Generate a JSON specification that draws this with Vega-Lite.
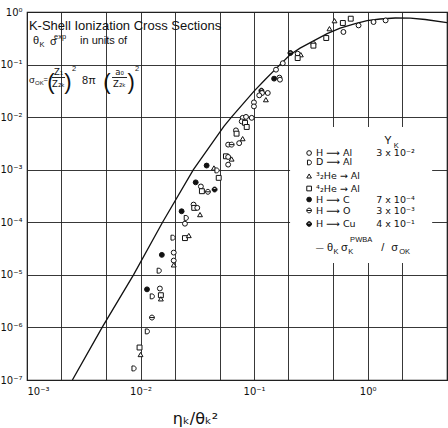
{
  "$schema": "https://vega.github.io/schema/vega-lite/v6.json",
  "width": 420,
  "height": 368,
  "autosize": {"type": "none"},
  "padding": {"left": 27, "top": 12, "right": 1, "bottom": 48},
  "background": "white",
  "config": {
    "view": {"stroke": "#111", "strokeWidth": 1.2},
    "font": "Liberation Sans"
  },
  "datasets": {
    "curve": [
      {"x": 0.00251, "y": 1e-7},
      {"x": 0.00459, "y": 1e-6},
      {"x": 0.00867, "y": 1e-5},
      {"x": 0.01563, "y": 1e-4},
      {"x": 0.0292, "y": 1e-3},
      {"x": 0.0542, "y": 0.00668},
      {"x": 0.0632, "y": 0.01},
      {"x": 0.1, "y": 0.0312},
      {"x": 0.1247, "y": 0.0516},
      {"x": 0.156, "y": 0.0836},
      {"x": 0.2075, "y": 0.154},
      {"x": 0.254, "y": 0.205},
      {"x": 0.331, "y": 0.279},
      {"x": 0.44, "y": 0.387},
      {"x": 0.573, "y": 0.492},
      {"x": 0.778, "y": 0.6},
      {"x": 0.99, "y": 0.684},
      {"x": 1.29, "y": 0.736},
      {"x": 1.75, "y": 0.769},
      {"x": 2.38, "y": 0.762},
      {"x": 3.22, "y": 0.72},
      {"x": 5.0, "y": 0.626}
    ],
    "points": [
      {"s": "H → Al", "x": 0.0246, "y": 9.4e-5},
      {"s": "D → Al", "x": 0.0192, "y": 5.1e-5},
      {"s": "⁴He → Al", "x": 0.0246, "y": 5.0e-5},
      {"s": "³He → Al", "x": 0.0266, "y": 5.6e-5},
      {"s": "H → C", "x": 0.0154, "y": 2.4e-5},
      {"s": "H → Al", "x": 0.0196, "y": 2.65e-5},
      {"s": "H → Al", "x": 0.0196, "y": 1.87e-5},
      {"s": "³He → Al", "x": 0.0196, "y": 1.55e-5},
      {"s": "D → Al", "x": 0.0145, "y": 1.2e-5},
      {"s": "H → C", "x": 0.0114, "y": 5.3e-6},
      {"s": "H → Al", "x": 0.0148, "y": 5.5e-6},
      {"s": "D → Al", "x": 0.0126, "y": 3.9e-6},
      {"s": "⁴He → Al", "x": 0.0151, "y": 4.1e-6},
      {"s": "³He → Al", "x": 0.0151, "y": 3.5e-6},
      {"s": "H → O", "x": 0.0126, "y": 1.54e-6},
      {"s": "D → Al", "x": 0.0114, "y": 8.4e-7},
      {"s": "⁴He → Al", "x": 0.0098, "y": 4.15e-7},
      {"s": "³He → Al", "x": 0.01, "y": 3.05e-7},
      {"s": "D → Al", "x": 0.0087, "y": 1.66e-7},
      {"s": "H → C", "x": 0.0382, "y": 1.2e-3},
      {"s": "³He → Al", "x": 0.0443, "y": 1.08e-3},
      {"s": "D → Al", "x": 0.0468, "y": 9.7e-4},
      {"s": "⁴He → Al", "x": 0.0488, "y": 7.0e-4},
      {"s": "H → C", "x": 0.0306, "y": 5.75e-4},
      {"s": "H → Al", "x": 0.034, "y": 4.8e-4},
      {"s": "⁴He → Al", "x": 0.0347, "y": 3.9e-4},
      {"s": "H → O", "x": 0.0392, "y": 3.8e-4},
      {"s": "H → Cu", "x": 0.0449, "y": 4.2e-4},
      {"s": "H → C", "x": 0.023, "y": 1.62e-4},
      {"s": "H → Al", "x": 0.0293, "y": 2.17e-4},
      {"s": "⁴He → Al", "x": 0.0297, "y": 1.88e-4},
      {"s": "H → Al", "x": 0.0316, "y": 1.88e-4},
      {"s": "³He → Al", "x": 0.0334, "y": 1.4e-4},
      {"s": "D → Al", "x": 0.0251, "y": 1.21e-4},
      {"s": "⁴He → Al", "x": 0.0565, "y": 1.8e-3},
      {"s": "H → Al", "x": 0.0591, "y": 1.75e-3},
      {"s": "³He → Al", "x": 0.0634, "y": 1.6e-3},
      {"s": "H → Al", "x": 0.0591, "y": 1.25e-3},
      {"s": "H → Al", "x": 0.0591, "y": 3.0e-3},
      {"s": "H → O", "x": 0.0634, "y": 3.0e-3},
      {"s": "H → Al", "x": 0.0739, "y": 3.2e-3},
      {"s": "³He → Al", "x": 0.0793, "y": 3.9e-3},
      {"s": "H → Al", "x": 0.0692, "y": 5.6e-3},
      {"s": "⁴He → Al", "x": 0.0701, "y": 4.85e-3},
      {"s": "H → Al", "x": 0.0793, "y": 9.7e-3},
      {"s": "H → Al", "x": 0.0849, "y": 1.01e-2},
      {"s": "H → Al", "x": 0.0953, "y": 9.7e-3},
      {"s": "H → Al", "x": 0.0778, "y": 8.3e-3},
      {"s": "⁴He → Al", "x": 0.0832, "y": 7.8e-3},
      {"s": "⁴He → Al", "x": 0.0861, "y": 6.5e-3},
      {"s": "H → Al", "x": 0.0997, "y": 1.91e-2},
      {"s": "H → Al", "x": 0.0997, "y": 1.6e-2},
      {"s": "H → Cu", "x": 0.116, "y": 3.19e-2},
      {"s": "H → Al", "x": 0.1175, "y": 2.88e-2},
      {"s": "H → Al", "x": 0.111, "y": 2.6e-2},
      {"s": "H → Al", "x": 0.132, "y": 2.88e-2},
      {"s": "³He → Al", "x": 0.127, "y": 2.15e-2},
      {"s": "H → Al", "x": 0.156, "y": 0.08},
      {"s": "H → C", "x": 0.15, "y": 0.054},
      {"s": "H → Al", "x": 0.167, "y": 0.0564},
      {"s": "H → Al", "x": 0.169, "y": 0.0516},
      {"s": "H → Al", "x": 0.179, "y": 0.106},
      {"s": "H → Cu", "x": 0.209, "y": 0.166},
      {"s": "H → Al", "x": 0.242, "y": 0.161},
      {"s": "³He → Al", "x": 0.258, "y": 0.154},
      {"s": "⁴He → Al", "x": 0.242, "y": 0.133},
      {"s": "H → Al", "x": 0.333, "y": 0.246},
      {"s": "⁴He → Al", "x": 0.333, "y": 0.229},
      {"s": "⁴He → Al", "x": 0.432, "y": 0.32},
      {"s": "³He → Al", "x": 0.461, "y": 0.482},
      {"s": "³He → Al", "x": 0.511, "y": 0.683},
      {"s": "⁴He → Al", "x": 0.605, "y": 0.618},
      {"s": "⁴He → Al", "x": 0.71, "y": 0.746},
      {"s": "H → Al", "x": 0.612, "y": 0.417},
      {"s": "H → Al", "x": 0.832, "y": 0.556},
      {"s": "H → Al", "x": 1.127, "y": 0.645},
      {"s": "H → Al", "x": 1.44, "y": 0.692}
    ],
    "box": [
      {"x": 0.2075, "x2": 3.7, "y": 0.006495, "y2": 1.68e-5}
    ],
    "keyRows": [
      {"s": "H → Al", "label": "H ⟶ Al", "val": "3 x 10⁻²", "x": 0.3052, "xl": 0.3518, "xv": 1.188, "y": 0.002078},
      {"s": "D → Al", "label": "D ⟶ Al", "val": "", "x": 0.3052, "xl": 0.3518, "xv": 1.188, "y": 0.001372},
      {"s": "³He → Al", "label": "³₂He → Al", "val": "", "x": 0.3052, "xl": 0.3518, "xv": 1.188, "y": 0.0007594},
      {"s": "⁴He → Al", "label": "⁴₂He → Al", "val": "", "x": 0.3052, "xl": 0.3518, "xv": 1.188, "y": 0.0004391},
      {"s": "H → C", "label": "H ⟶ C", "val": "7 x 10⁻⁴", "x": 0.3052, "xl": 0.3518, "xv": 1.188, "y": 0.0002712},
      {"s": "H → O", "label": "H ⟶ O", "val": "3 x 10⁻³", "x": 0.3052, "xl": 0.3518, "xv": 1.188, "y": 0.0001675},
      {"s": "H → Cu", "label": "H ⟶ Cu", "val": "4 x 10⁻¹", "x": 0.3052, "xl": 0.3518, "xv": 1.188, "y": 0.0000928}
    ],
    "headText": [
      {"t": "K-Shell Ionization Cross Sections", "x": 0.00104, "y": 0.5415}
    ],
    "mainText": [
      {"t": "θ", "x": 0.00113, "y": 0.2808},
      {"t": "σ", "x": 0.001595, "y": 0.2687},
      {"t": "in units of", "x": 0.00293, "y": 0.2808},
      {"t": "8π", "x": 0.003052, "y": 0.04868},
      {"t": "θ", "x": 0.4395, "y": 3.242e-5},
      {"t": "σ", "x": 0.584, "y": 3.242e-5},
      {"t": "/", "x": 1.315, "y": 3.242e-5},
      {"t": "σ", "x": 1.611, "y": 3.242e-5},
      {"t": "Y", "x": 1.398, "y": 0.003516}
    ],
    "formulaText": [
      {"t": "σ", "x": 0.00104, "y": 0.05087}
    ],
    "eqText": [
      {"t": "=", "x": 0.001397, "y": 0.05087}
    ],
    "smallText": [
      {"t": "K", "x": 0.00129, "y": 0.2357},
      {"t": "exp", "x": 0.00173, "y": 0.3345},
      {"t": "2", "x": 0.002497, "y": 0.08235},
      {"t": "2", "x": 0.008944, "y": 0.08235},
      {"t": "—", "x": 0.3518, "y": 3.242e-5},
      {"t": "K", "x": 0.5017, "y": 2.72e-5},
      {"t": "K", "x": 0.6733, "y": 2.72e-5},
      {"t": "PWBA", "x": 0.7011, "y": 4.6e-5},
      {"t": "OK", "x": 1.894, "y": 2.72e-5},
      {"t": "K", "x": 1.70, "y": 0.002825}
    ],
    "tinyText": [
      {"t": "OK", "x": 0.001176, "y": 0.04461}
    ],
    "fracText": [
      {"t": "Z₁", "x": 0.001895, "y": 0.07222},
      {"t": "Z₂ₖ", "x": 0.001895, "y": 0.04271},
      {"t": "a₀", "x": 0.006531, "y": 0.07222},
      {"t": "Z₂ₖ", "x": 0.006531, "y": 0.04271}
    ],
    "fracBars": [
      {"x": 0.001660, "x2": 0.002163, "y": 0.05676},
      {"x": 0.00561, "x2": 0.007603, "y": 0.05676}
    ],
    "parens": [
      {"t": "(", "x": 0.001625, "y": 0.04764},
      {"t": ")", "x": 0.002297, "y": 0.04764},
      {"t": "(", "x": 0.005068, "y": 0.04764},
      {"t": ")", "x": 0.008247, "y": 0.04764}
    ]
  },
  "encoding": {
    "x": {
      "field": "x",
      "type": "quantitative",
      "scale": {"type": "log", "domain": [0.001, 5], "nice": false},
      "axis": {
        "values": [0.001, 0.002, 0.005, 0.01, 0.02, 0.05, 0.1, 0.2, 0.5, 1, 2, 5],
        "grid": true,
        "gridColor": "#222",
        "gridWidth": 1,
        "gridOpacity": 0.9,
        "ticks": false,
        "domain": false,
        "labelOverlap": false,
        "labelFontSize": 10,
        "labelColor": "#111",
        "labelPadding": 6,
        "labelFont": "DejaVu Sans",
        "labelExpr": "abs(log(datum.value)/LN10 - round(log(datum.value)/LN10)) > 0.001 ? '' : '10' + (round(log(datum.value)/LN10) == 0 ? '⁰' : '⁻' + ['⁰','¹','²','³','⁴','⁵','⁶','⁷'][-round(log(datum.value)/LN10)])",
        "title": "ηₖ/θₖ²",
        "titleFont": "DejaVu Sans",
        "titleFontSize": 16,
        "titleFontWeight": "normal",
        "titleColor": "#111",
        "titleX": 168,
        "titleY": 30
      }
    },
    "y": {
      "field": "y",
      "type": "quantitative",
      "scale": {"type": "log", "domain": [1e-7, 1], "nice": false},
      "axis": {
        "values": [1e-7, 1e-6, 1e-5, 1e-4, 1e-3, 1e-2, 1e-1, 1],
        "grid": true,
        "gridColor": "#222",
        "gridWidth": 1,
        "gridOpacity": 0.9,
        "ticks": false,
        "domain": false,
        "labelOverlap": false,
        "labelFontSize": 10,
        "labelColor": "#111",
        "labelPadding": 5,
        "labelFont": "DejaVu Sans",
        "labelExpr": "'10' + (round(log(datum.value)/LN10) == 0 ? '⁰' : '⁻' + ['⁰','¹','²','³','⁴','⁵','⁶','⁷'][-round(log(datum.value)/LN10)])",
        "title": null
      }
    }
  },
  "layer": [
    {
      "data": {"name": "box"},
      "mark": {"type": "rect", "fill": "white", "strokeWidth": 0},
      "encoding": {"x2": {"field": "x2"}, "y2": {"field": "y2"}}
    },
    {
      "data": {"name": "curve"},
      "mark": {"type": "line", "color": "#111", "strokeWidth": 1.3, "clip": true},
      "encoding": {}
    },
    {
      "data": {"name": "points"},
      "mark": {"type": "point", "filled": true, "stroke": "#111", "strokeWidth": 1, "opacity": 1, "size": 24},
      "encoding": {
        "shape": {
          "field": "s",
          "type": "nominal",
          "scale": {
            "domain": ["H → Al", "D → Al", "³He → Al", "⁴He → Al", "H → C", "H → O", "H → Cu"],
            "range": ["circle", "M-0.7,-1L0,-1A1,1 0 0,1 0,1L-0.7,1Z", "triangle-up", "square", "circle", "M-1,0A1,1 0 1,1 1,0A1,1 0 1,1 -1,0ZM-1,0L1,0", "M-1,0A1,1 0 0,0 1,0ZM-1,0A1,1 0 0,1 1,0L0.75,0A0.75,0.75 0 0,0 -0.75,0Z"]
          },
          "legend": null
        },
        "fill": {
          "field": "s",
          "type": "nominal",
          "scale": {
            "domain": ["H → Al", "D → Al", "³He → Al", "⁴He → Al", "H → C", "H → O", "H → Cu"],
            "range": ["white", "white", "white", "white", "#111", "white", "#111"]
          },
          "legend": null
        }
      }
    },
    {
      "data": {"name": "keyRows"},
      "mark": {"type": "point", "filled": true, "stroke": "#111", "strokeWidth": 1, "opacity": 1, "size": 22},
      "encoding": {
        "shape": {"field": "s", "type": "nominal", "legend": null},
        "fill": {"field": "s", "type": "nominal", "legend": null}
      }
    },
    {
      "data": {"name": "keyRows"},
      "mark": {"type": "text", "align": "left", "baseline": "middle", "fontSize": 9.5, "font": "DejaVu Sans", "color": "#111"},
      "encoding": {"x": {"field": "xl", "type": "quantitative"}, "text": {"field": "label"}}
    },
    {
      "data": {"name": "keyRows"},
      "mark": {"type": "text", "align": "left", "baseline": "middle", "fontSize": 9.5, "font": "DejaVu Sans", "color": "#111"},
      "encoding": {"x": {"field": "xv", "type": "quantitative"}, "text": {"field": "val"}}
    },
    {
      "data": {"name": "headText"},
      "mark": {"type": "text", "align": "left", "baseline": "middle", "fontSize": 13, "color": "#111"},
      "encoding": {"text": {"field": "t"}}
    },
    {
      "data": {"name": "mainText"},
      "mark": {"type": "text", "align": "left", "baseline": "middle", "fontSize": 11, "color": "#111"},
      "encoding": {"text": {"field": "t"}}
    },
    {
      "data": {"name": "formulaText"},
      "mark": {"type": "text", "align": "left", "baseline": "middle", "fontSize": 9.5, "color": "#111"},
      "encoding": {"text": {"field": "t"}}
    },
    {
      "data": {"name": "eqText"},
      "mark": {"type": "text", "align": "left", "baseline": "middle", "fontSize": 7.5, "color": "#111"},
      "encoding": {"text": {"field": "t"}}
    },
    {
      "data": {"name": "smallText"},
      "mark": {"type": "text", "align": "left", "baseline": "middle", "fontSize": 7.5, "color": "#111"},
      "encoding": {"text": {"field": "t"}}
    },
    {
      "data": {"name": "tinyText"},
      "mark": {"type": "text", "align": "left", "baseline": "middle", "fontSize": 6, "color": "#111"},
      "encoding": {"text": {"field": "t"}}
    },
    {
      "data": {"name": "fracText"},
      "mark": {"type": "text", "align": "center", "baseline": "middle", "fontSize": 8.5, "font": "DejaVu Sans", "color": "#111"},
      "encoding": {"text": {"field": "t"}}
    },
    {
      "data": {"name": "fracBars"},
      "mark": {"type": "rule", "color": "#111", "strokeWidth": 0.9},
      "encoding": {"x2": {"field": "x2"}}
    },
    {
      "data": {"name": "parens"},
      "mark": {"type": "text", "align": "center", "baseline": "middle", "fontSize": 22, "color": "#111"},
      "encoding": {"text": {"field": "t"}}
    }
  ]
}
